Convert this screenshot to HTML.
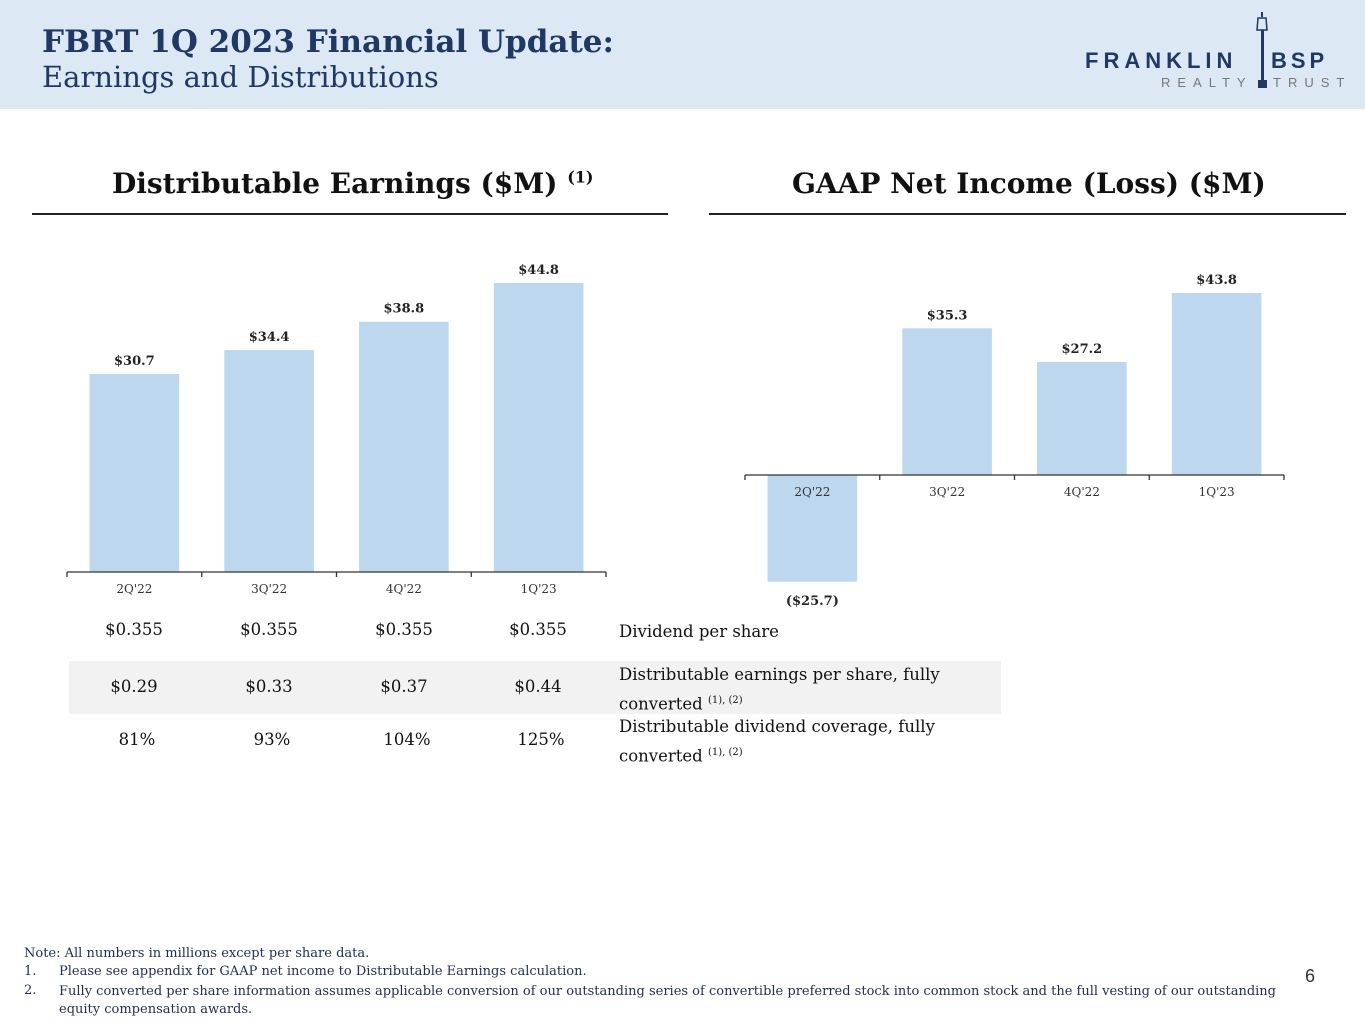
<!DOCTYPE html>
<html><head><meta charset="utf-8">
<style>
body{margin:0;width:1365px;height:1024px;position:relative;background:#fff;font-family:"DejaVu Serif",serif;overflow:hidden}
.abs{position:absolute}
#hdr{left:0;top:0;width:1365px;height:109px;background:#dce8f4}
.t1{left:42px;top:24px;font-size:31px;font-weight:bold;color:#1f3864;white-space:nowrap}
.t2{left:42px;top:60px;font-size:29px;color:#1f3864;white-space:nowrap}
.ct{font-size:28px;font-weight:bold;color:#111;white-space:nowrap}
.rule{height:2px;background:#222}
.cell{font-size:16.5px;color:#111;width:100px;text-align:center}
.lbl{font-size:16.5px;color:#111;line-height:26px;white-space:nowrap}
.lbl sup{font-size:10px}
.note{font-size:13px;color:#1f2d4e;white-space:nowrap}
</style></head><body>
<div id="hdr" class="abs"></div>
<div class="abs t1">FBRT 1Q 2023 Financial Update:</div>
<div class="abs t2">Earnings and Distributions</div>
<div class="abs" style="left:1085px;top:12px;width:270px;height:80px">
  <div class="abs" style="left:0;top:36px;font-family:'Liberation Sans',sans-serif;font-weight:bold;font-size:22px;letter-spacing:5px;color:#1f3864">FRANKLIN</div>
  <div class="abs" style="left:186px;top:36px;font-family:'Liberation Sans',sans-serif;font-weight:bold;font-size:22px;letter-spacing:4px;color:#1f3864">BSP</div>
  <div class="abs" style="left:76px;top:63px;font-family:'Liberation Sans',sans-serif;font-size:13px;letter-spacing:7px;color:#777">REALTY</div>
  <div class="abs" style="left:188px;top:63px;font-family:'Liberation Sans',sans-serif;font-size:13px;letter-spacing:7px;color:#777">TRUST</div>
  <svg class="abs" style="left:170px;top:0" width="16" height="80"><rect x="6" y="0" width="2" height="5" fill="#1f3864"/><path d="M3 6 L11 6 L12 18 L2 18 Z" fill="none" stroke="#1f3864" stroke-width="1.5"/><rect x="6" y="18" width="3" height="54" fill="#1f3864"/><rect x="3" y="68" width="9" height="8" fill="#1f3864"/></svg>
</div>

<div class="abs ct" style="left:112px;top:167px">Distributable Earnings ($M) <sup style="font-size:16px">(1)</sup></div>
<div class="abs rule" style="left:32px;top:213px;width:636px"></div>
<div class="abs ct" style="left:792px;top:167px">GAAP Net Income (Loss) ($M)</div>
<div class="abs rule" style="left:709px;top:213px;width:637px"></div>

<svg id="charts" class="abs" style="left:0;top:0" width="1365" height="620"></svg>

<div class="abs" style="left:69px;top:661px;width:932px;height:53px;background:#f2f2f2"></div>
<div id="tbl"></div>
<div class="abs lbl" style="left:619px;top:619px">Dividend per share</div>
<div class="abs lbl" style="left:619px;top:662px">Distributable earnings per share, fully<br>converted <sup>(1), (2)</sup></div>
<div class="abs lbl" style="left:619px;top:714px">Distributable dividend coverage, fully<br>converted <sup>(1), (2)</sup></div>

<div class="abs note" style="left:24px;top:946px">Note: All numbers in millions except per share data.</div>
<div class="abs note" style="left:24px;top:964px">1.</div>
<div class="abs note" style="left:59px;top:964px">Please see appendix for GAAP net income to Distributable Earnings calculation.</div>
<div class="abs note" style="left:24px;top:983px">2.</div>
<div class="abs note" style="left:59px;top:983px;line-height:18px">Fully converted per share information assumes applicable conversion of our outstanding series of convertible preferred stock into common stock and the full vesting of our outstanding<br>equity compensation awards.</div>
<div class="abs" style="left:1305px;top:966px;font-size:18px;font-family:'Liberation Sans',sans-serif;color:#333">6</div>

<script>
const categories=["2Q'22","3Q'22","4Q'22","1Q'23"];
const deValues=[30.7,34.4,38.8,44.8];
const deLabels=["$30.7","$34.4","$38.8","$44.8"];
const niValues=[-25.7,35.3,27.2,43.8];
const niLabels=["($25.7)","$35.3","$27.2","$43.8"];
const dividends=["$0.355","$0.355","$0.355","$0.355"];
const dePerShare=["$0.29","$0.33","$0.37","$0.44"];
const coverage=["81%","93%","104%","125%"];

const NS="http://www.w3.org/2000/svg";
const svg=document.getElementById('charts');
function mk(t,a){const e=document.createElementNS(NS,t);for(const k in a)e.setAttribute(k,a[k]);svg.appendChild(e);return e;}
function drawChart(prefix,x0,x1,baseY,scale,values,labels){
  const n=categories.length,band=(x1-x0)/n,bw=band*0.665;
  const xs=i=>x0+band*i+(band-bw)/2;
  const ys=v=>baseY-v*scale;
  values.forEach((v,i)=>{
    const top=Math.min(ys(v),baseY),h=Math.abs(ys(v)-baseY);
    const r=mk('rect',{x:xs(i),y:top,width:bw,height:h,fill:'#bdd7ee'});
    
    
    const ly=v>=0?ys(v)-9:ys(v)+23;
    const t=mk('text',{x:xs(i)+bw/2,y:ly,'text-anchor':'middle','font-size':13,'font-weight':'bold','font-family':'DejaVu Serif, serif',fill:'#222'});
    t.textContent=labels[i];
    
    
  });
  const ax=mk('line',{x1:x0,x2:x1,y1:baseY,y2:baseY,stroke:'#333','stroke-width':1.3});
  
  
  for(let i=0;i<=n;i++){mk('line',{x1:x0+band*i,x2:x0+band*i,y1:baseY,y2:baseY+5,stroke:'#333','stroke-width':1.3});}
  categories.forEach((c,i)=>{
    const t=mk('text',{x:x0+band*i+band/2,y:baseY+21,'text-anchor':'middle','font-size':12,'font-family':'DejaVu Serif, serif',fill:'#333'});
    t.textContent=c;
    
    
  });
}
drawChart('de',67,606,572,6.45,deValues,deLabels);
drawChart('ni',745,1284,475,4.155,niValues,niLabels);

const tbl=document.getElementById('tbl');
const colX=[84,219,354,488];
[[dividends,620],[dePerShare,677],[coverage,730]].forEach(([arr,y],r)=>{
  arr.forEach((v,i)=>{
    const d=document.createElement('div');
    d.className='abs cell';
    d.style.left=(colX[i]+(r==2?3:0))+'px';d.style.top=y+'px';
    d.textContent=v;
    
    
    tbl.appendChild(d);
  });
});
</script>
</body></html>
